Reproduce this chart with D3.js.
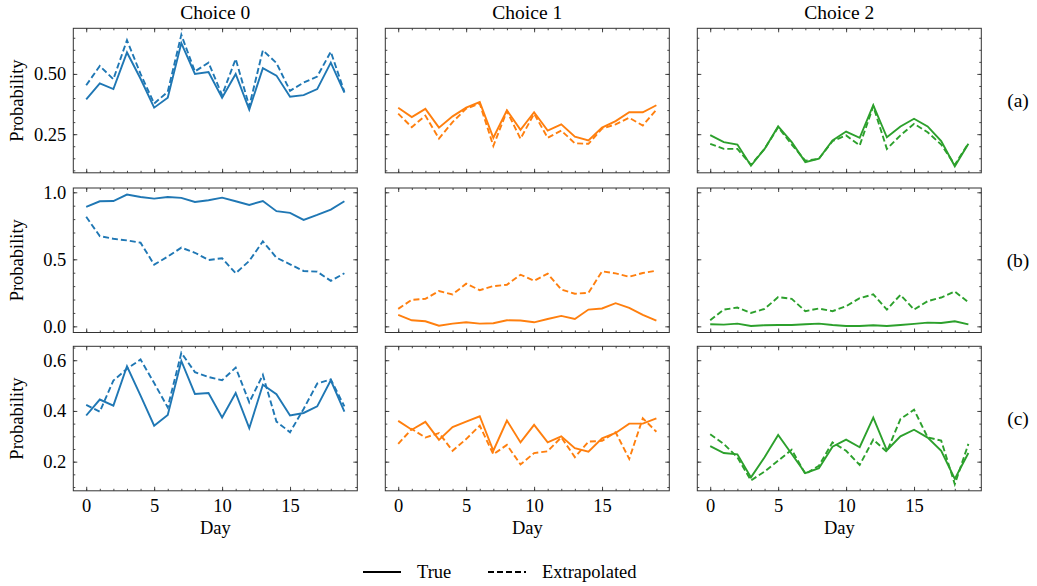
<!DOCTYPE html>
<html>
<head>
<meta charset="utf-8">
<script src="https://cdn.jsdelivr.net/npm/d3@7"></script>
<style>
  body { margin: 0; background: #fff; }
  svg text { font-family: "Liberation Serif", "Times New Roman", serif !important; fill: #000; }
</style>
</head>
<body>
<svg id="chart" width="1037" height="586"></svg>
<script>
// Day index shared by every panel
const days = [0, 1, 2, 3, 4, 5, 6, 7, 8, 9, 10, 11, 12, 13, 14, 15, 16, 17, 18, 19];
const choices = ["Choice 0", "Choice 1", "Choice 2"];
const rowLabels = ["(a)", "(b)", "(c)"];

// Row (a)
const aTrue0 = [0.394, 0.461, 0.437, 0.589, 0.48, 0.360, 0.401, 0.628, 0.500, 0.508, 0.401, 0.500, 0.352, 0.524, 0.493, 0.405, 0.412, 0.437, 0.547, 0.422];
const aExt0  = [0.453, 0.533, 0.478, 0.640, 0.50, 0.377, 0.426, 0.662, 0.510, 0.547, 0.412, 0.562, 0.366, 0.598, 0.545, 0.430, 0.464, 0.489, 0.592, 0.426];
const aTrue1 = [0.360, 0.321, 0.355, 0.277, 0.324, 0.360, 0.383, 0.235, 0.349, 0.268, 0.341, 0.265, 0.291, 0.240, 0.224, 0.277, 0.304, 0.341, 0.341, 0.370];
const aExt1  = [0.335, 0.279, 0.327, 0.232, 0.300, 0.356, 0.377, 0.201, 0.346, 0.231, 0.335, 0.235, 0.265, 0.212, 0.210, 0.273, 0.291, 0.318, 0.286, 0.352];
const aTrue2 = [0.246, 0.217, 0.207, 0.119, 0.189, 0.282, 0.217, 0.134, 0.148, 0.224, 0.261, 0.235, 0.370, 0.237, 0.282, 0.314, 0.282, 0.221, 0.117, 0.210];
const aExt2  = [0.210, 0.189, 0.189, 0.123, 0.189, 0.279, 0.207, 0.140, 0.148, 0.221, 0.245, 0.203, 0.366, 0.189, 0.245, 0.293, 0.258, 0.207, 0.123, 0.212];

// Row (b)
const bTrue0 = [0.891, 0.933, 0.935, 0.983, 0.965, 0.953, 0.965, 0.958, 0.928, 0.941, 0.960, 0.933, 0.906, 0.935, 0.859, 0.846, 0.794, 0.831, 0.871, 0.933];
const bExt0  = [0.817, 0.673, 0.653, 0.641, 0.624, 0.460, 0.520, 0.587, 0.549, 0.495, 0.508, 0.396, 0.488, 0.634, 0.512, 0.463, 0.413, 0.408, 0.339, 0.396];
const bTrue1 = [0.085, 0.045, 0.038, 0.005, 0.020, 0.030, 0.020, 0.023, 0.045, 0.043, 0.030, 0.055, 0.078, 0.055, 0.125, 0.133, 0.173, 0.138, 0.085, 0.043];
const bExt1  = [0.130, 0.198, 0.205, 0.263, 0.238, 0.318, 0.270, 0.300, 0.310, 0.385, 0.340, 0.393, 0.275, 0.243, 0.250, 0.410, 0.395, 0.370, 0.398, 0.415];
const bTrue2 = [0.015, 0.013, 0.020, 0.003, 0.008, 0.010, 0.010, 0.015, 0.020, 0.010, 0.003, 0.003, 0.008, 0.003, 0.010, 0.018, 0.028, 0.025, 0.038, 0.015];
const bExt2  = [0.045, 0.125, 0.140, 0.100, 0.130, 0.218, 0.205, 0.113, 0.133, 0.113, 0.150, 0.210, 0.238, 0.125, 0.235, 0.125, 0.188, 0.215, 0.260, 0.180];

// Row (c)
const cTrue0 = [0.382, 0.445, 0.421, 0.576, 0.460, 0.342, 0.384, 0.597, 0.467, 0.471, 0.374, 0.471, 0.332, 0.503, 0.466, 0.382, 0.392, 0.418, 0.521, 0.397];
const cExt0  = [0.424, 0.397, 0.520, 0.566, 0.603, 0.510, 0.414, 0.629, 0.553, 0.534, 0.521, 0.571, 0.434, 0.542, 0.358, 0.316, 0.408, 0.508, 0.524, 0.418];
const cTrue1 = [0.361, 0.326, 0.357, 0.286, 0.336, 0.358, 0.379, 0.243, 0.362, 0.276, 0.345, 0.276, 0.300, 0.253, 0.239, 0.292, 0.313, 0.350, 0.350, 0.371];
const cExt1  = [0.270, 0.329, 0.295, 0.313, 0.243, 0.289, 0.342, 0.229, 0.266, 0.189, 0.234, 0.241, 0.296, 0.218, 0.279, 0.282, 0.316, 0.211, 0.371, 0.318];
const cTrue2 = [0.261, 0.234, 0.229, 0.138, 0.217, 0.305, 0.230, 0.155, 0.174, 0.259, 0.287, 0.257, 0.374, 0.245, 0.300, 0.326, 0.295, 0.243, 0.132, 0.234];
const cExt2  = [0.308, 0.270, 0.217, 0.126, 0.161, 0.204, 0.247, 0.151, 0.184, 0.276, 0.243, 0.187, 0.287, 0.239, 0.368, 0.405, 0.296, 0.283, 0.111, 0.270];

const rows = [
  { trues: [aTrue0, aTrue1, aTrue2], exts: [aExt0, aExt1, aExt2], major: [0.25, 0.5], minorStep: 0.05, fmt: ".2f" },
  { trues: [bTrue0, bTrue1, bTrue2], exts: [bExt0, bExt1, bExt2], major: [0, 0.5, 1], minorStep: 0.1, fmt: ".1f" },
  { trues: [cTrue0, cTrue1, cTrue2], exts: [cExt0, cExt1, cExt2], major: [0.2, 0.4, 0.6], minorStep: 0.05, fmt: ".1f" }
];

const colors = ["#1f77b4", "#ff7f0e", "#2ca02c"];
const serif = '"Liberation Serif", "Times New Roman", serif';
const colLeft = [73.3, 385.3, 697.3];
const rowTop = [28.3, 188, 346.3];
const panelW = 284, panelH = 144.5;

const svg = d3.select("#chart");

rows.forEach((row, r) => {
  // shared y per row, matplotlib-like 5% margins
  const all = row.trues.flat().concat(row.exts.flat());
  const [lo, hi] = d3.extent(all);
  const pad = (hi - lo) * 0.05;
  const y = d3.scaleLinear().domain([lo - pad, hi + pad]).range([panelH, 0]);
  const minorTicks = d3.range(Math.ceil((lo - pad) / row.minorStep) * row.minorStep, hi + pad, row.minorStep);

  choices.forEach((name, c) => {
    const x = d3.scaleLinear().domain([-0.95, 19.95]).range([0, panelW]);
    const g = svg.append("g").attr("transform", `translate(${colLeft[c]},${rowTop[r]})`);

    // minor ticks, all four sides, pointing in
    const minorX = days;
    g.append("g").call(d3.axisBottom(x).tickValues(minorX).tickSize(-2).tickFormat(""))
      .attr("transform", `translate(0,${panelH})`);
    g.append("g").call(d3.axisTop(x).tickValues(minorX).tickSize(-2).tickFormat(""));
    g.append("g").call(d3.axisLeft(y).tickValues(minorTicks).tickSize(-2).tickFormat(""));
    g.append("g").call(d3.axisRight(y).tickValues(minorTicks).tickSize(-2).tickFormat(""))
      .attr("transform", `translate(${panelW},0)`);

    // major ticks
    g.append("g").attr("transform", `translate(0,${panelH})`)
      .call(d3.axisBottom(x).tickValues([0, 5, 10, 15]).tickSize(-4).tickPadding(8)
        .tickFormat(r === 2 ? d3.format("d") : ""));
    g.append("g").call(d3.axisTop(x).tickValues([0, 5, 10, 15]).tickSize(-4).tickFormat(""));
    g.append("g").call(d3.axisLeft(y).tickValues(row.major).tickSize(-4).tickPadding(7)
      .tickFormat(c === 0 ? d3.format(row.fmt) : ""));
    g.append("g").attr("transform", `translate(${panelW},0)`)
      .call(d3.axisRight(y).tickValues(row.major).tickSize(-4).tickFormat(""));

    g.selectAll(".domain").remove();
    g.selectAll(".tick line").attr("stroke", "#333").attr("stroke-width", 0.9);
    g.selectAll("g").attr("font-family", null);
    g.selectAll(".tick text").attr("font-size", 18.5)
      .style("font-family", serif).attr("fill", "#000");

    g.append("rect").attr("width", panelW).attr("height", panelH)
      .attr("fill", "none").attr("stroke", "#333").attr("stroke-width", 1);

    const line = d3.line().x((d, i) => x(days[i])).y(d => y(d));
    g.append("path").datum(row.trues[c]).attr("d", line)
      .attr("fill", "none").attr("stroke", colors[c]).attr("stroke-width", 1.9);
    g.append("path").datum(row.exts[c]).attr("d", line)
      .attr("fill", "none").attr("stroke", colors[c]).attr("stroke-width", 1.9)
      .attr("stroke-dasharray", "6,3");

    if (r === 0) {
      svg.append("text").attr("x", colLeft[c] + panelW / 2).attr("y", 19)
        .attr("text-anchor", "middle").attr("font-size", 19.5).text(name);
    }
    if (r === 2) {
      svg.append("text").attr("x", colLeft[c] + panelW / 2).attr("y", rowTop[r] + panelH + 43)
        .attr("text-anchor", "middle").attr("font-size", 18.5).text("Day");
    }
    if (c === 0) {
      svg.append("text")
        .attr("transform", `translate(23,${rowTop[r] + panelH / 2}) rotate(-90)`)
        .attr("text-anchor", "middle").attr("font-size", 18.5).text("Probability");
    }
  });

  svg.append("text").attr("x", 1018).attr("y", rowTop[r] + panelH / 2)
    .attr("dy", "0.35em").attr("text-anchor", "middle").attr("font-size", 19.5).text(rowLabels[r]);
});

// legend
const legend = svg.append("g").attr("transform", "translate(0,572)");
legend.append("line").attr("x1", 363).attr("x2", 401).attr("stroke", "#000").attr("stroke-width", 1.9);
legend.append("text").attr("x", 417).attr("dy", "0.35em").attr("font-size", 18.5).text("True");
legend.append("line").attr("x1", 488).attr("x2", 526).attr("stroke", "#000").attr("stroke-width", 1.9)
  .attr("stroke-dasharray", "6,3");
legend.append("text").attr("x", 542).attr("dy", "0.35em").attr("font-size", 18.5).text("Extrapolated");
</script>
</body>
</html>
